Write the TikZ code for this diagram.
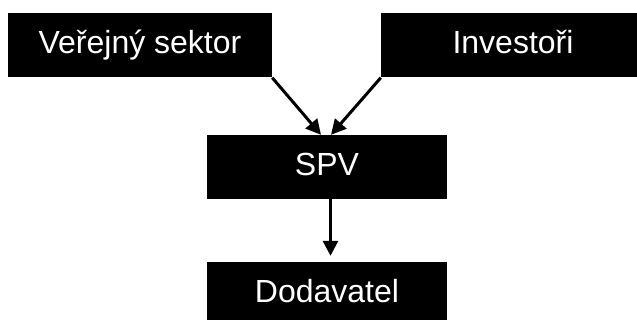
\documentclass[tikz,border=0pt]{standalone}
\usepackage{fontspec}
\setmainfont{Liberation Sans}
\usetikzlibrary{arrows.meta,calc}
\begin{document}
\begin{tikzpicture}[x=1pt,y=-1pt,
  blackbox/.style={rectangle,fill=black,draw=none,text=white,
    font=\fontsize{32}{36}\selectfont,inner sep=0pt,
    minimum width=264pt,minimum height=64.5pt},
  midbox/.style={blackbox,minimum width=240pt,minimum height=64pt},
  flow/.style={line width=3pt,-{Triangle[width=15pt,length=15pt]}}]
  \clip (0,0) rectangle (637,320);
  \fill[white] (0,0) rectangle (637,320);
  % boxes
  \node[blackbox] (ver) at (140,45.25) {\vphantom{Vý}Veřejný sektor};
  \node[blackbox] (inv) at (513,45.25) {\vphantom{Vý}Investoři};
  \node[midbox] (spv) at (327,167) {\vphantom{Vý}SPV};
  \node[midbox] (dod) at (327,294) {\vphantom{Vý}Dodavatel};
  % connectors
  \draw[flow] (ver.south east) -- ($(spv.north)+(-6,0)$);
  \draw[flow] (inv.south west) -- ($(spv.north)+(4,0)$);
  \draw[flow] ($(spv.south)+(3.5,0)$) -- ($(dod.north)+(3.5,-6)$);
\end{tikzpicture}
\end{document}
